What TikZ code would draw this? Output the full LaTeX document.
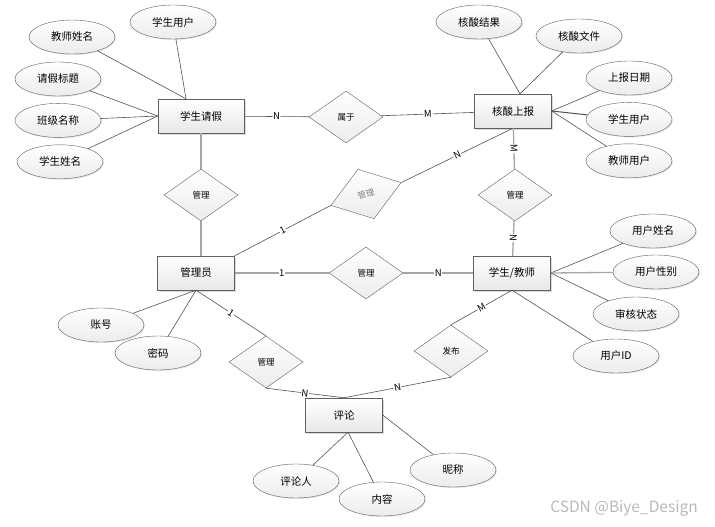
\documentclass[tikz,border=0pt]{standalone}
\usepackage{fontspec}
\setmainfont{Noto Sans CJK SC}
\usepackage{xcolor}
\usetikzlibrary{positioning, shapes.geometric, shadows}

\begin{document}
\begin{tikzpicture}[x = 1pt, y = -1pt, node distance = 7pt, font = \fontsize{10.5}{12}\selectfont]
    \tikzstyle{entity} = [rectangle, draw=gray!75!black, top color=white, bottom color=gray!18, minimum width=77pt, minimum height=34pt, inner sep=0pt, drop shadow={shadow xshift=1.5pt, shadow yshift=-1.5pt, opacity=0.3}];
    \tikzstyle{relation} = [diamond, draw=gray!75!black, top color=white, bottom color=gray!15, minimum width=74pt, minimum height=52pt, inner sep=0pt, font=\fontsize{8.5}{10}\selectfont];
    \tikzstyle{attr} = [ellipse, draw=gray!75!black, top color=white, bottom color=gray!15, minimum width=86pt, minimum height=34pt, inner sep=0pt, drop shadow={shadow xshift=1pt, shadow yshift=-1pt, opacity=0.2}];
    \tikzstyle{link} = [draw=gray!65!black, line width=0.6pt];
    \tikzstyle{heavy} = [draw=gray!70, line width=1.3pt];
    \tikzstyle{card} = [fill=white, inner sep=0.6pt, sloped, font=\fontsize{9.5}{10}\selectfont];

    \useasboundingbox (0, 0) rectangle (715, 527);

    % entities
    \node [entity, minimum width=86pt] (E0) at (201, 116) {学生请假};
    \node [entity] (E1) at (513, 111) {核酸上报};
    \node [entity] (E2) at (196, 273) {管理员};
    \node [entity] (E3) at (512, 273) {学生/教师};
    \node [entity] (E4) at (344, 415) {评论};

    % relations
    \node [relation] (R0) at (346, 117) {属于};
    \node [relation] (R1) at (201, 195) {管理};
    \node [relation] (R2) at (515, 195) {管理};
    \node [relation] (R3) at (366, 273) {管理};
    \node [relation, rotate=18, text=gray] (R4) at (366, 194) {管理};
    \node [relation] (R5) at (266, 362) {管理};
    \node [relation] (R6) at (451, 351) {发布};

    % attributes
    \node [attr] (A0) at (173, 22) {学生用户};
    \node [attr] (A1) at (72, 37) {教师姓名};
    \node [attr] (A2) at (58, 79) {请假标题};
    \node [attr, below = of A2] (A3) {班级名称};
    \node [attr, below = of A3, xshift=2pt] (A4) {学生姓名};

    \node [attr] (A5) at (479, 22) {核酸结果};
    \node [attr] (A6) at (579, 36) {核酸文件};
    \node [attr] (A7) at (629, 78) {上报日期};
    \node [attr, below = of A7] (A8) {学生用户};
    \node [attr, below = of A8] (A9) {教师用户};

    \node [attr] (A10) at (653, 231) {用户姓名};
    \node [attr] (A11) at (656, 272) {用户性别};
    \node [attr] (A12) at (636, 314) {审核状态};
    \node [attr] (A13) at (616, 356) {用户ID};

    \node [attr] (A14) at (101, 325) {账号};
    \node [attr] (A15) at (158, 353) {密码};

    \node [attr] (A16) at (296, 481) {评论人};
    \node [attr] (A17) at (382, 499) {内容};
    \node [attr] (A18) at (453, 470) {昵称};

    \node [text=gray!55, font=\fontsize{15.5}{16}\selectfont] (WM) at (624, 508) {CSDN @Biye\_Design};

    % relation links
    \draw [link] (E0) -- node [card] {N} (R0);
    \draw [link] (R0) -- node [card] {M} (E1);
    \draw [heavy] (E0) -- (R1);
    \draw [heavy] (R1.south) -- (R1.south |- E2.north);
    \draw [link] (E2.north east) -- node [card] {1} (R4.west);
    \draw [link] (R4.east) -- node [card] {N} (E1.south);
    \draw [heavy] (E1) -- node [card] {M} (R2);
    \draw [heavy] (R2) -- node [card] {N} (E3);
    \draw [heavy] (E2) -- node [card] {1} (R3);
    \draw [heavy] (R3) -- node [card] {N} (E3);
    \draw [link] (E2.south) -- node [card] {1} (R5.north);
    \draw [link] (R5.south) -- node [card] {N} (E4.north);
    \draw [link] (E3.south) -- node [card] {M} (R6.north);
    \draw [link] (R6.south) -- node [card] {N} (E4.north);

    % attribute links
    \draw [link] (A0) -- ([xshift=-15pt]E0.north);
    \draw [link] (A1) -- ([xshift=-15pt]E0.north);
    \draw [link] (A2) -- (E0.west);
    \draw [link] (A3) -- (E0.west);
    \draw [link] (A4) -- (E0.west);
    \draw [link] (A5) -- ([xshift=7pt]E1.north);
    \draw [link] (A6) -- ([xshift=7pt]E1.north);
    \draw [link] (A7) -- (E1.east);
    \draw [link, line width=1pt] (A8) -- (E1.east);
    \draw [link] (A9) -- (E1.east);
    \draw [link] (A10) -- (E3.east);
    \draw [heavy] (A11) -- (E3.east);
    \draw [link] (A12) -- (E3.east);
    \draw [link] (A13) -- (E3.south);
    \draw [link] (A14) -- (E2.south);
    \draw [link] (A15) -- (E2.south);
    \draw [link] (A16) -- ([xshift=4pt]E4.south);
    \draw [link] (A17) -- ([xshift=4pt]E4.south);
    \draw [link] (A18) -- (E4.east);
\end{tikzpicture}
\end{document}
